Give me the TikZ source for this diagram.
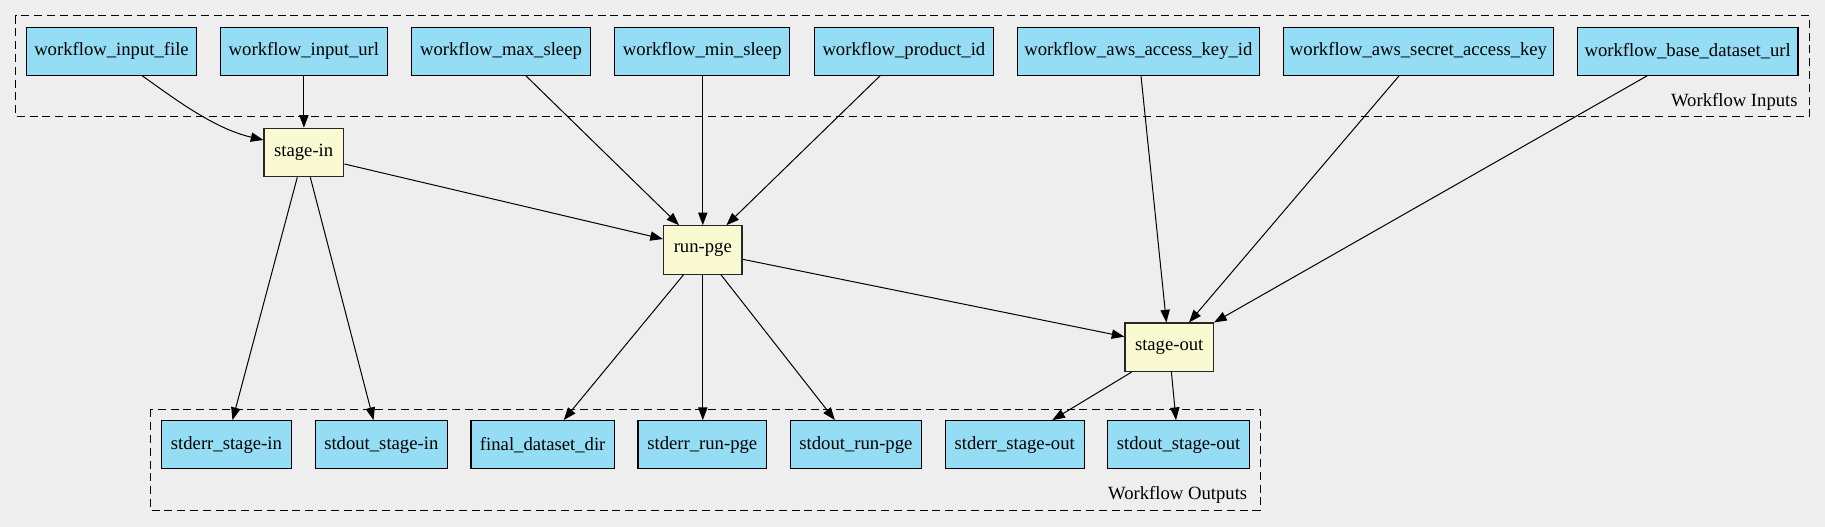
\documentclass[tikz,border=0pt]{standalone}
\usepackage{fontspec}
\setmainfont{LiberationSerif}[Extension=.ttf,UprightFont=*-Regular]
\newfontfamily\tms{LiberationSerif}[Extension=.ttf,UprightFont=*-Regular]
\usetikzlibrary{arrows.meta,calc}
\definecolor{bgc}{HTML}{EEEEEE}
\definecolor{inc}{HTML}{94DDF4}
\definecolor{stc}{HTML}{FAFAD2}
\tikzset{
  iobox/.style={draw=black, line width=0.9pt, fill=inc, inner sep=0pt, minimum height=36pt, font=\tms\fontsize{14pt}{16pt}\selectfont},
  stbox/.style={draw=black!85, line width=0.9pt, fill=stc, inner sep=0pt, minimum height=36.3pt, font=\tms\fontsize{14pt}{16pt}\selectfont},
  cluster/.style={draw=black, line width=0.8pt, dash pattern=on 6pt off 3.6pt},
  clabel/.style={anchor=base east, inner sep=0pt, font=\tms\fontsize{14pt}{16pt}\selectfont},
  edge/.style={draw=black, line width=0.75pt, -{Triangle[length=9.5pt,width=7pt]}}
}
\begin{document}
\begin{tikzpicture}[x=0.75pt,y=-0.75pt]
\useasboundingbox (0,0) rectangle (1825,527);
\fill[bgc] (0,0) rectangle (1825,527);
% clusters
\draw[cluster] (15.3,15.7) rectangle (1809.4,116.7);
\node[clabel] (lin) at (1797.9,106.3) {Workflow Inputs};
\draw[cluster] (150.4,409.3) rectangle (1260.1,510.5);
\node[clabel] (lout) at (1247.5,499.3) {Workflow Outputs};
% inputs
\node[iobox, minimum width=169.5*0.75pt] (ifile) at (111.5,51.3) {workflow\_input\_file};
\node[iobox, minimum width=167*0.75pt] (iurl) at (303.9,51.3) {workflow\_input\_url};
\node[iobox, minimum width=179*0.75pt] (maxs) at (501,51.3) {workflow\_max\_sleep};
\node[iobox, minimum width=175*0.75pt] (mins) at (702.3,51.3) {workflow\_min\_sleep};
\node[iobox, minimum width=179*0.75pt] (prod) at (903.9,51.3) {workflow\_product\_id};
\node[iobox, minimum width=241.7*0.75pt] (akid) at (1138.4,51.3) {workflow\_aws\_access\_key\_id};
\node[iobox, minimum width=270*0.75pt] (secret) at (1418.5,51.3) {workflow\_aws\_secret\_access\_key};
\node[iobox, minimum width=220.4*0.75pt] (base) at (1687.7,51.3) {workflow\_base\_dataset\_url};
% stages
\node[stbox, minimum width=79.3*0.75pt] (stagein) at (303.7,152.5) {stage-in};
\node[stbox, minimum width=78.5*0.75pt] (runpge) at (702.8,250) {run-pge};
\node[stbox, minimum width=88.4*0.75pt] (stageout) at (1169.2,347.3) {stage-out};
% outputs
\node[iobox, minimum width=129.5*0.75pt] (serrin) at (226.4,444.7) {stderr\_stage-in};
\node[iobox, minimum width=132*0.75pt] (soutin) at (381.3,444.7) {stdout\_stage-in};
\node[iobox, minimum width=143.3*0.75pt] (final) at (542.7,444.7) {final\_dataset\_dir};
\node[iobox, minimum width=128.5*0.75pt] (serrpge) at (702.3,444.7) {stderr\_run-pge};
\node[iobox, minimum width=130.5*0.75pt] (soutpge) at (855.9,444.7) {stdout\_run-pge};
\node[iobox, minimum width=139*0.75pt] (serrout) at (1014.7,444.7) {stderr\_stage-out};
\node[iobox, minimum width=141.6*0.75pt] (soutout) at (1178.6,444.7) {stdout\_stage-out};
% edges
\draw[edge] ($(ifile.south)+(30.9,0)$) .. controls ($(ifile.south)+(62,22)$) and ($(stagein.west)+(-50,-24)$) .. ($(stagein.west)+(0,-12.5)$);
\draw[edge] (iurl.south) -- (iurl.south |- stagein.north);
\draw[edge] ($(maxs.south)+(25,0)$) -- ($(runpge.north)+(-23.8,0)$);
\draw[edge] (runpge.north |- mins.south) -- (runpge.north);
\draw[edge] ($(prod.south)+(-23.9,0)$) -- ($(runpge.north)+(23.6,0)$);
\draw[edge] ($(akid.south)+(2.6,0)$) -- ($(stageout.north)+(-2.8,0)$);
\draw[edge] ($(secret.south)+(-19.5,0)$) -- ($(stageout.north)+(19.8,0)$);
\draw[edge] ($(base.south)+(-40.7,0)$) -- (stageout.north east);
\draw[edge] ($(stagein.east)+(0.5,11.5)$) -- ($(runpge.west)+(0,-11)$);
\draw[edge] ($(stagein.south)+(-6.4,0)$) -- ($(serrin.north)+(6.1,0)$);
\draw[edge] ($(stagein.south)+(6.6,0)$) -- ($(soutin.north)+(-7.8,0)$);
\draw[edge] ($(runpge.south)+(-19.3,0)$) -- ($(final.north)+(21,0)$);
\draw[edge] (runpge.south) -- (runpge.south |- serrpge.north);
\draw[edge] ($(runpge.south)+(18.2,0)$) -- ($(soutpge.north)+(-21,0)$);
\draw[edge] ($(runpge.east)+(0,9.3)$) -- ($(stageout.west)+(0,-10.6)$);
\draw[edge] ($(stageout.south)+(-37.6,0)$) -- ($(serrout.north)+(37.6,0)$);
\draw[edge] ($(stageout.south)+(2.2,0)$) -- ($(soutout.north)+(-2.6,0)$);
\end{tikzpicture}
\end{document}
